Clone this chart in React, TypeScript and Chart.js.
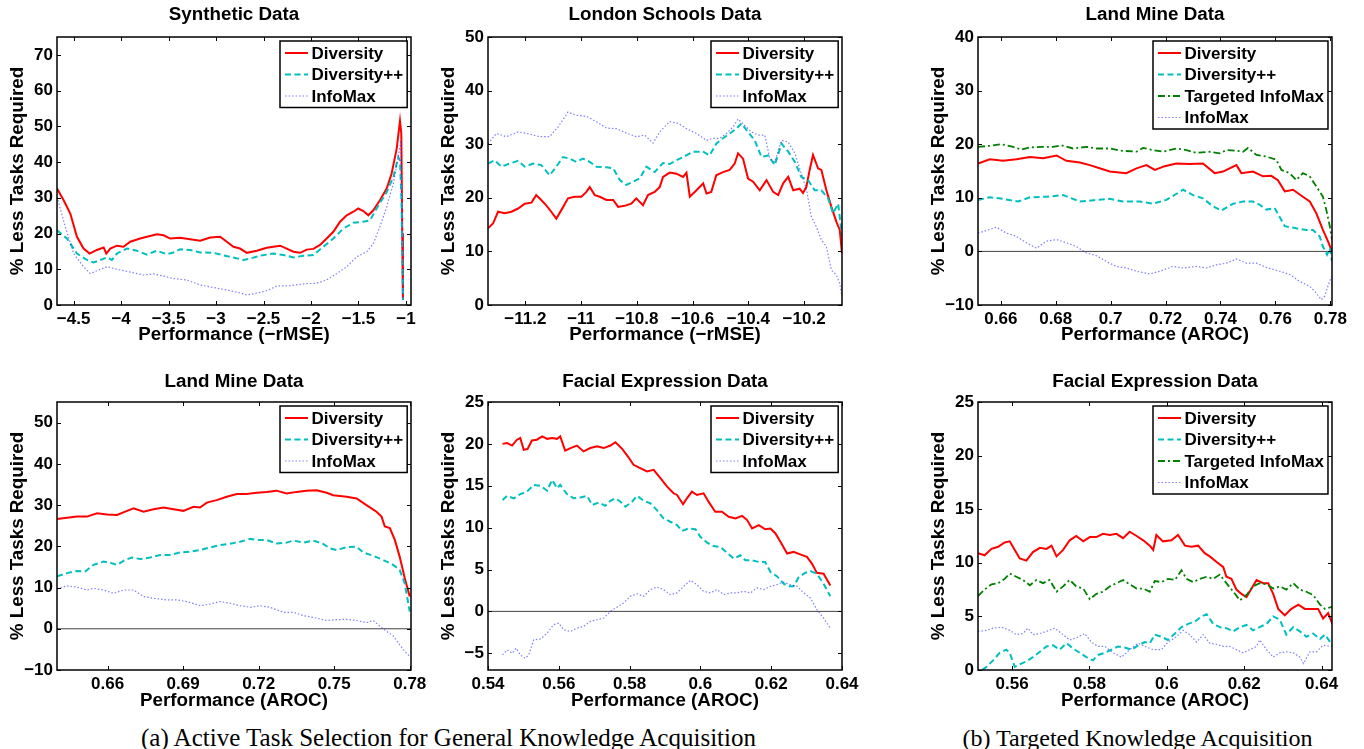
import React, { useEffect, useRef } from 'react';
import { Chart, registerables } from 'chart.js';

Chart.register(...registerables);

const FONT = '"Liberation Sans", Arial, Helvetica, sans-serif';
const SERIF = '"Liberation Serif", "Times New Roman", Times, serif';
const TICK_FONT = 17;
const LABEL_FONT = 18.8;
const LEGEND_FONT = 17;
const LH = 1.2;

// ---------- Synthetic Data ----------
const synthDivX = [-4.675,-4.605,-4.535,-4.465,-4.395,-4.332,-4.255,-4.184,-4.156,-4.114,-4.044,-3.974,-3.904,-3.799,-3.728,-3.623,-3.553,-3.483,-3.378,-3.273,-3.167,-3.062,-2.957,-2.887,-2.817,-2.747,-2.676,-2.571,-2.466,-2.396,-2.326,-2.256,-2.185,-2.115,-2.045,-1.975,-1.905,-1.835,-1.765,-1.694,-1.624,-1.554,-1.502,-1.449,-1.396,-1.344,-1.274,-1.203,-1.151,-1.098,-1.063,-1.049,-1.039,-1.032];
const synthDivY = [32.6,29.3,25.6,19.1,15.8,14.4,15.4,16.1,14.4,15.8,16.6,16.3,17.7,18.6,19.1,19.8,19.5,18.6,18.8,18.4,18.0,18.9,19.1,17.7,16.3,15.8,14.6,15.2,16.0,16.3,16.6,15.8,14.9,14.6,15.5,15.7,16.8,18.6,20.5,23.3,25.1,26.1,27.0,26.3,25.1,26.5,29.3,32.6,36.8,43.7,51.5,48,20,1.5];
const synthDppX = [-4.675,-4.570,-4.465,-4.360,-4.290,-4.219,-4.149,-4.097,-4.044,-3.939,-3.834,-3.728,-3.623,-3.518,-3.448,-3.378,-3.273,-3.167,-3.027,-2.922,-2.817,-2.711,-2.641,-2.536,-2.396,-2.291,-2.185,-2.080,-1.975,-1.870,-1.765,-1.659,-1.554,-1.449,-1.379,-1.309,-1.203,-1.133,-1.081,-1.063,-1.047,-1.032];
const synthDppY = [20.9,18.6,14.4,12.6,11.9,12.6,13.3,12.6,14.4,15.8,15.2,14.1,15.2,14.2,14.7,15.6,15.4,14.7,14.6,13.9,13.3,12.6,13.0,13.8,14.4,14.0,13.3,13.8,14.0,16.3,18.6,21.4,23.0,23.3,23.7,27.0,31.6,35.8,41.4,40.5,29.3,1.4];
const synthImX = [-4.675,-4.588,-4.500,-4.395,-4.325,-4.219,-4.149,-4.044,-3.974,-3.869,-3.764,-3.658,-3.553,-3.448,-3.308,-3.167,-3.027,-2.887,-2.747,-2.676,-2.571,-2.466,-2.361,-2.220,-2.080,-1.940,-1.835,-1.729,-1.624,-1.519,-1.414,-1.344,-1.274,-1.203,-1.133,-1.081,-1.053,-1.032];
const synthImY = [30.3,21.9,14.4,10.7,8.8,10.0,10.7,10.0,9.6,9.0,8.4,8.7,8.1,7.4,7.0,5.6,4.9,4.2,3.4,2.8,3.3,4.0,5.3,5.4,5.9,6.1,7.0,8.8,10.7,13.5,14.9,17.2,21.9,27.5,34.0,41.4,46,1.4];

// ---------- London Schools Data ----------
const londonDivX = [-11.334,-11.316,-11.298,-11.274,-11.250,-11.226,-11.202,-11.178,-11.161,-11.143,-11.125,-11.107,-11.089,-11.071,-11.047,-11.023,-10.999,-10.981,-10.969,-10.951,-10.933,-10.909,-10.885,-10.867,-10.844,-10.820,-10.802,-10.778,-10.760,-10.736,-10.718,-10.706,-10.682,-10.658,-10.634,-10.622,-10.610,-10.586,-10.562,-10.550,-10.533,-10.515,-10.491,-10.467,-10.449,-10.437,-10.419,-10.401,-10.383,-10.359,-10.335,-10.311,-10.293,-10.275,-10.257,-10.239,-10.216,-10.204,-10.192,-10.180,-10.168,-10.150,-10.138,-10.120,-10.102,-10.084,-10.072,-10.064];
const londonDivY = [14.3,15.2,17.4,17.1,17.4,18.0,18.9,19.1,20.5,19.6,18.6,17.4,16.1,17.7,19.9,20.2,20.2,21.1,22.0,20.5,20.2,19.6,19.6,18.3,18.5,18.9,19.9,18.6,20.5,21.1,22.0,23.9,24.7,24.5,23.9,24.7,20.2,21.4,22.7,20.8,21.1,24.2,24.8,25.2,26.4,28.3,27.3,23.6,23.0,21.4,23.3,21.1,20.5,22.7,23.9,21.4,21.7,20.9,22.0,25.2,28.0,25.5,25.2,21.4,18.3,15.5,14.0,9.6];
const londonDppX = [-11.334,-11.310,-11.286,-11.256,-11.226,-11.202,-11.172,-11.143,-11.113,-11.089,-11.065,-11.041,-11.017,-10.993,-10.969,-10.945,-10.909,-10.885,-10.861,-10.838,-10.814,-10.790,-10.766,-10.736,-10.706,-10.682,-10.658,-10.634,-10.598,-10.562,-10.539,-10.515,-10.491,-10.467,-10.443,-10.425,-10.401,-10.377,-10.353,-10.329,-10.305,-10.281,-10.257,-10.233,-10.210,-10.186,-10.162,-10.138,-10.114,-10.096,-10.078,-10.064];
const londonDppY = [26.4,27.0,25.8,26.4,26.9,25.8,26.4,26.1,24.2,25.8,27.6,27.3,26.7,27.3,26.7,25.8,25.7,25.5,23.3,22.4,23.0,23.6,25.8,24.8,26.5,26.3,27.0,27.6,28.6,28.6,27.9,30.1,31.1,32.0,32.9,33.9,32.3,30.7,27.6,27.9,26.1,30.1,28.6,26.7,23.9,23.3,21.4,21.4,19.9,17.1,18.9,13.0];
const londonImX = [-11.334,-11.304,-11.268,-11.226,-11.184,-11.149,-11.113,-11.083,-11.047,-11.017,-10.981,-10.945,-10.909,-10.873,-10.838,-10.802,-10.772,-10.742,-10.718,-10.682,-10.652,-10.622,-10.586,-10.550,-10.527,-10.503,-10.479,-10.455,-10.437,-10.413,-10.389,-10.365,-10.341,-10.323,-10.305,-10.281,-10.257,-10.233,-10.210,-10.192,-10.174,-10.156,-10.138,-10.120,-10.102,-10.084,-10.072,-10.064];
const londonImY = [30.1,32.0,31.4,32.3,31.9,31.4,31.4,33.2,36.0,35.4,35.2,34.2,33.0,32.9,32.1,31.4,31.7,30.2,32.3,34.2,33.9,32.9,32.0,30.7,31.1,31.1,32.0,33.2,34.7,33.5,32.3,31.7,31.7,27.3,26.7,30.7,30.4,28.3,24.5,21.7,16.5,14.6,12.1,10.9,6.5,5.6,4.0,1.6];

// ---------- Land Mine Data (targeted) ----------
const lmbDivX = [0.6517,0.6560,0.6608,0.6657,0.6706,0.6754,0.6803,0.6839,0.6888,0.6924,0.6960,0.6997,0.7057,0.7094,0.7130,0.7161,0.7197,0.7239,0.7288,0.7336,0.7379,0.7409,0.7458,0.7476,0.7518,0.7555,0.7585,0.7609,0.7634,0.7664,0.7700,0.7725,0.7749,0.7773,0.7791,0.7806];
const lmbDivY = [16.4,17.2,16.9,17.2,17.6,17.4,17.9,16.9,16.6,16.1,15.5,14.9,14.6,15.5,16.1,15.2,15.9,16.4,16.3,16.4,14.6,14.9,16.1,14.6,14.9,14.0,14.1,13.3,11.2,11.5,10.2,9.3,7.1,4.0,1.9,0];
const lmbDppX = [0.6517,0.6560,0.6608,0.6663,0.6706,0.6766,0.6827,0.6888,0.6948,0.6997,0.7045,0.7106,0.7154,0.7203,0.7264,0.7300,0.7336,0.7373,0.7403,0.7446,0.7482,0.7518,0.7543,0.7567,0.7597,0.7634,0.7676,0.7713,0.7737,0.7761,0.7773,0.7788,0.7798,0.7806];
const lmbDppY = [9.6,10.1,9.8,9.3,10.1,10.2,10.5,9.3,9.6,9.8,9.3,9.3,8.9,9.6,11.5,10.5,9.9,8.4,7.6,8.9,9.3,9.3,8.7,7.8,8.1,4.7,4.3,4.0,4.0,2.8,0.9,-0.6,0.6,-1.9];
const lmbTimX = [0.6517,0.6560,0.6602,0.6645,0.6675,0.6706,0.6748,0.6790,0.6821,0.6863,0.6912,0.6948,0.6997,0.7033,0.7094,0.7118,0.7154,0.7191,0.7239,0.7276,0.7312,0.7361,0.7397,0.7421,0.7458,0.7482,0.7500,0.7531,0.7567,0.7603,0.7622,0.7652,0.7676,0.7700,0.7725,0.7749,0.7773,0.7785,0.7798,0.7806];
const lmbTimY = [19.5,19.7,20.0,19.5,19.0,19.4,19.5,19.5,19.8,19.2,19.5,19.2,19.2,18.8,18.6,19.3,18.9,18.6,19.2,18.9,18.4,18.6,18.3,18.9,18.8,18.6,19.3,18.0,17.7,17.1,15.2,14.6,13.3,14.6,14.0,12.1,10.2,7.8,4.7,2.2];
const lmbImX = [0.6517,0.6554,0.6584,0.6621,0.6657,0.6693,0.6730,0.6766,0.6803,0.6839,0.6875,0.6912,0.6948,0.6985,0.7021,0.7057,0.7094,0.7142,0.7179,0.7227,0.7264,0.7312,0.7349,0.7385,0.7421,0.7458,0.7494,0.7531,0.7567,0.7616,0.7652,0.7688,0.7725,0.7749,0.7767,0.7779,0.7791,0.7804];
const lmbImY = [3.4,4.0,4.5,3.4,2.8,1.6,0.6,1.9,2.2,1.6,0.9,-0.3,-0.8,-1.9,-2.8,-3.1,-3.7,-4.2,-3.7,-2.8,-3.1,-2.8,-3.1,-2.5,-2.2,-1.4,-2.2,-2.2,-3.0,-3.7,-4.3,-5.6,-6.5,-7.8,-9.0,-8.4,-6.5,-4.7];

// ---------- Land Mine Data (general) ----------
const lmaDivX = [0.6399,0.6439,0.6478,0.6518,0.6558,0.6597,0.6637,0.6670,0.6703,0.6743,0.6782,0.6822,0.6862,0.6901,0.6941,0.6967,0.6994,0.7033,0.7073,0.7113,0.7152,0.7192,0.7232,0.7271,0.7311,0.7351,0.7390,0.7430,0.7470,0.7496,0.7549,0.7589,0.7628,0.7668,0.7688,0.7701,0.7721,0.7741,0.7760,0.7780,0.7800];
const lmaDivY = [26.6,26.9,27.2,27.2,28.0,27.7,27.6,28.4,29.2,28.4,29.0,29.4,29.0,28.6,29.6,29.4,30.6,31.2,32.0,32.7,32.7,33.0,33.2,33.5,32.8,33.2,33.5,33.6,33.0,32.4,32.0,31.6,30.0,28.4,27.2,24.8,24.4,21.5,17.5,12.3,7.8];
const lmaDppX = [0.6399,0.6439,0.6478,0.6511,0.6544,0.6584,0.6611,0.6637,0.6670,0.6696,0.6730,0.6769,0.6809,0.6848,0.6888,0.6928,0.6967,0.7007,0.7047,0.7086,0.7126,0.7166,0.7205,0.7232,0.7271,0.7311,0.7337,0.7377,0.7417,0.7456,0.7483,0.7509,0.7549,0.7589,0.7615,0.7655,0.7694,0.7734,0.7760,0.7780,0.7800];
const lmaDppY = [12.7,13.5,14.0,13.9,15.5,16.3,16.0,15.5,16.7,17.3,16.9,17.3,17.9,17.9,18.5,18.7,19.1,19.7,20.3,20.6,21.1,21.8,21.5,21.5,20.7,20.9,21.4,20.9,21.4,20.6,19.5,19.1,19.8,19.9,18.5,17.7,16.7,15.5,14.3,11.0,4.2];
const lmaImX = [0.6399,0.6439,0.6478,0.6518,0.6544,0.6584,0.6624,0.6663,0.6703,0.6743,0.6782,0.6835,0.6875,0.6915,0.6967,0.7007,0.7047,0.7086,0.7126,0.7166,0.7205,0.7245,0.7298,0.7337,0.7377,0.7430,0.7470,0.7509,0.7549,0.7589,0.7628,0.7655,0.7681,0.7708,0.7734,0.7760,0.7780,0.7800];
const lmaImY = [9.7,10.4,10.1,9.4,9.8,9.4,8.6,9.4,9.4,7.8,7.4,7.0,7.0,6.6,5.6,6.0,6.6,6.2,5.6,5.2,5.6,5.2,4.0,4.0,3.2,2.6,2.0,2.2,2.3,2.0,1.5,2.0,0.6,-0.6,-1.7,-3.9,-5.5,-6.7];

// ---------- Facial Expression Data (general) ----------
const faDivX = [0.5441,0.5454,0.5468,0.5482,0.5491,0.5501,0.5512,0.5524,0.5538,0.5553,0.5567,0.5581,0.5595,0.5604,0.5618,0.5633,0.5651,0.5670,0.5689,0.5708,0.5727,0.5746,0.5760,0.5779,0.5797,0.5811,0.5830,0.5849,0.5868,0.5887,0.5906,0.5924,0.5934,0.5951,0.5962,0.5976,0.5990,0.6009,0.6023,0.6042,0.6061,0.6080,0.6099,0.6118,0.6132,0.6146,0.6165,0.6183,0.6198,0.6212,0.6226,0.6245,0.6263,0.6282,0.6301,0.6315,0.6329,0.6348,0.6367];
const faDivY = [20.0,20.1,19.8,20.5,20.7,19.3,19.4,20.4,20.5,20.9,20.6,20.7,20.6,20.9,19.2,19.5,19.8,19.1,19.5,19.7,19.5,19.8,20.2,19.4,18.4,17.5,17.1,16.7,16.9,15.9,14.9,14.1,13.9,12.8,13.5,14.3,13.9,14.1,13.1,11.9,11.9,11.3,11.1,11.4,10.9,9.9,10.3,9.8,9.9,9.3,8.3,6.9,7.1,6.8,6.5,5.7,4.6,4.5,3.1];
const faDppX = [0.5441,0.5454,0.5473,0.5491,0.5510,0.5529,0.5548,0.5567,0.5581,0.5595,0.5604,0.5623,0.5642,0.5661,0.5680,0.5694,0.5713,0.5731,0.5746,0.5760,0.5774,0.5788,0.5807,0.5821,0.5840,0.5859,0.5877,0.5896,0.5915,0.5934,0.5948,0.5967,0.5986,0.6000,0.6019,0.6037,0.6056,0.6075,0.6094,0.6113,0.6127,0.6146,0.6165,0.6183,0.6198,0.6216,0.6235,0.6249,0.6263,0.6278,0.6296,0.6311,0.6329,0.6348,0.6367];
const faDppY = [13.3,13.8,13.5,14.0,14.3,15.1,15.0,14.4,15.7,14.7,15.1,14.0,13.5,13.6,13.8,12.7,13.0,12.6,13.2,13.5,13.1,12.5,13.1,13.8,13.2,12.9,12.1,11.1,10.7,10.3,9.6,9.9,9.8,8.9,8.2,7.8,7.7,7.0,6.3,6.7,6.1,6.1,5.9,5.9,4.7,4.2,3.3,3.0,3.0,4.1,4.6,4.8,4.5,3.3,1.8];
const faImX = [0.5441,0.5454,0.5468,0.5480,0.5491,0.5505,0.5515,0.5529,0.5548,0.5567,0.5585,0.5600,0.5614,0.5633,0.5651,0.5670,0.5689,0.5708,0.5727,0.5746,0.5764,0.5783,0.5802,0.5821,0.5840,0.5859,0.5877,0.5896,0.5915,0.5934,0.5953,0.5972,0.5990,0.6009,0.6028,0.6047,0.6066,0.6085,0.6103,0.6122,0.6141,0.6160,0.6179,0.6198,0.6216,0.6235,0.6254,0.6273,0.6292,0.6311,0.6329,0.6348,0.6367];
const faImY = [-5.2,-4.6,-5.0,-4.4,-5.2,-5.6,-5.2,-3.4,-3.3,-2.6,-1.6,-1.4,-2.2,-2.4,-2.0,-1.8,-1.2,-1.0,-0.8,0.0,0.5,1.0,1.8,2.1,1.8,2.6,2.9,2.6,2.0,2.2,3.0,3.7,3.2,2.4,2.2,2.6,2.0,2.2,2.2,2.4,2.2,2.8,2.6,3.0,3.2,3.5,3.2,3.0,2.2,1.6,0.2,-0.8,-2.0];

// ---------- Facial Expression Data (targeted) ----------
const fbDivX = [0.5512,0.5529,0.5547,0.5564,0.5581,0.5594,0.5607,0.5620,0.5637,0.5654,0.5672,0.5689,0.5702,0.5715,0.5732,0.5749,0.5766,0.5784,0.5801,0.5818,0.5835,0.5853,0.5870,0.5887,0.5904,0.5922,0.5939,0.5956,0.5965,0.5973,0.5990,0.6012,0.6029,0.6047,0.6064,0.6081,0.6098,0.6111,0.6128,0.6146,0.6154,0.6167,0.6180,0.6193,0.6206,0.6219,0.6232,0.6249,0.6262,0.6275,0.6288,0.6305,0.6322,0.6340,0.6357,0.6374,0.6391,0.6404,0.6417,0.6428];
const fbDivY = [10.9,10.7,11.3,11.5,11.9,12.0,11.2,10.4,10.2,11.0,11.4,11.3,11.6,10.6,11.2,12.1,12.5,12.0,12.4,12.4,12.7,12.6,12.7,12.3,12.9,12.5,12.1,11.6,11.2,12.6,12.0,12.1,12.6,11.6,11.5,11.6,10.9,10.6,10.1,9.6,8.7,8.5,7.5,7.1,6.8,7.6,8.4,8.1,8.1,7.1,5.7,5.1,5.7,6.1,5.7,5.7,5.7,4.8,5.3,4.3];
const fbDppX = [0.5523,0.5534,0.5551,0.5568,0.5585,0.5594,0.5607,0.5624,0.5637,0.5654,0.5672,0.5689,0.5706,0.5723,0.5741,0.5758,0.5775,0.5792,0.5809,0.5822,0.5840,0.5857,0.5874,0.5891,0.5909,0.5926,0.5943,0.5956,0.5969,0.5986,0.6003,0.6021,0.6038,0.6055,0.6072,0.6090,0.6103,0.6120,0.6137,0.6154,0.6172,0.6189,0.6206,0.6223,0.6240,0.6258,0.6275,0.6292,0.6309,0.6327,0.6344,0.6361,0.6378,0.6396,0.6409,0.6428];
const fbDppY = [0,0.3,0.9,1.6,1.9,1.6,0.3,0.6,0.8,1.2,1.7,2.2,2.3,1.9,2.5,2.0,1.6,1.2,0.9,1.4,1.6,1.9,2.2,2.1,1.9,2.3,2.6,2.5,3.3,3.1,2.8,3.4,4.0,4.3,4.5,5.0,5.2,4.3,4.0,3.9,3.6,4.0,4.2,3.7,4.0,4.3,5.0,4.7,3.3,4.0,3.6,3.1,3.4,2.9,3.3,2.3];
const fbTimX = [0.5512,0.5529,0.5547,0.5564,0.5581,0.5594,0.5611,0.5628,0.5646,0.5663,0.5680,0.5697,0.5715,0.5732,0.5749,0.5766,0.5784,0.5801,0.5818,0.5835,0.5853,0.5870,0.5887,0.5904,0.5922,0.5939,0.5956,0.5969,0.5986,0.6003,0.6021,0.6038,0.6051,0.6068,0.6085,0.6103,0.6120,0.6137,0.6154,0.6172,0.6189,0.6206,0.6223,0.6240,0.6258,0.6275,0.6292,0.6309,0.6327,0.6344,0.6361,0.6378,0.6396,0.6409,0.6428];
const fbTimY = [6.9,7.5,8.0,8.1,8.5,9.0,8.7,8.4,7.9,8.4,8.1,8.4,7.3,7.8,8.4,7.8,7.6,6.6,7.1,7.3,7.8,8.1,8.4,8.0,7.6,7.6,7.3,8.3,8.2,8.5,8.4,9.3,8.5,8.2,8.5,8.7,8.5,8.9,8.1,7.3,6.5,7.0,7.8,8.1,8.0,7.6,7.8,7.5,8.1,7.5,7.3,7.0,6.1,5.7,5.9];
const fbImX = [0.5512,0.5534,0.5551,0.5572,0.5594,0.5611,0.5628,0.5641,0.5654,0.5672,0.5689,0.5710,0.5732,0.5749,0.5766,0.5788,0.5805,0.5822,0.5840,0.5861,0.5883,0.5904,0.5926,0.5943,0.5965,0.5986,0.6003,0.6025,0.6042,0.6059,0.6077,0.6094,0.6111,0.6128,0.6146,0.6163,0.6180,0.6197,0.6215,0.6232,0.6240,0.6258,0.6275,0.6292,0.6309,0.6327,0.6344,0.6353,0.6370,0.6387,0.6404,0.6428];
const fbImY = [3.6,3.7,3.9,4.0,3.7,3.3,3.4,3.9,3.3,3.4,3.6,3.9,3.3,2.8,3.0,3.4,2.6,2.2,2.2,1.6,1.2,1.9,2.5,2.2,1.9,1.9,2.6,3.1,3.7,3.3,2.6,3.3,2.5,2.4,2.2,2.2,1.9,1.6,1.9,2.2,2.8,1.9,1.2,1.6,1.7,1.6,1.2,0.6,1.7,1.7,2.3,2.2];

const captionA = '(a) Active Task Selection for General Knowledge Acquisition';
const captionB = '(b) Targeted Knowledge Acquisition';
const yAxisLabel = '% Less Tasks Required';

type Kind = 'div' | 'dpp' | 'tim' | 'im';

const STYLE: Record<Kind, { label: string; color: string; width: number; dash: number[] }> = {
  div: { label: 'Diversity', color: '#ff0000', width: 2, dash: [] },
  dpp: { label: 'Diversity++', color: '#00bfbf', width: 2, dash: [6, 3.5] },
  tim: { label: 'Targeted InfoMax', color: '#008000', width: 1.8, dash: [7, 3, 2, 3] },
  im: { label: 'InfoMax', color: 'rgba(40,40,255,0.6)', width: 1.2, dash: [1.5, 2] },
};

interface SeriesSpec { kind: Kind; x: number[]; y: number[] }
interface Panel {
  title: string;
  xTitle: string;
  xMin: number; xMax: number; xStep: number;
  yMin: number; yMax: number; yStep: number;
  zero: boolean;
  series: SeriesSpec[];
  box: { left: number; top: number; width: number; height: number };
  plot: { left: number; top: number; right: number; bottom: number };
  titleCY: number; xTickCY: number; xTitleCY: number; yTitleX: number;
}

const ROW = [
  { top: 0, height: 355, pt: 37, pb: 305, titleCY: 15, xTickCY: 319.3, xTitleCY: 335.3 },
  { top: 362, height: 355, pt: 402, pb: 670, titleCY: 381.7, xTickCY: 684.2, xTitleCY: 700.7 },
];
const COL = [
  { left: 0, width: 440, pl: 57, pr: 411, yTitleX: 17.5 },
  { left: 425, width: 465, pl: 488, pr: 842, yTitleX: 449 },
  { left: 890, width: 474, pl: 978, pr: 1332, yTitleX: 939 },
];

function place(r: number, c: number) {
  const R = ROW[r], C = COL[c];
  return {
    box: { left: C.left, top: R.top, width: C.width, height: R.height },
    plot: { left: C.pl, top: R.pt, right: C.pr, bottom: R.pb },
    titleCY: R.titleCY, xTickCY: R.xTickCY, xTitleCY: R.xTitleCY, yTitleX: C.yTitleX,
  };
}

const PANELS: Panel[] = [
  {
    title: 'Synthetic Data', xTitle: 'Performance (\u2212rMSE)',
    xMin: -4.675, xMax: -0.947, xStep: 0.5, yMin: 0, yMax: 75, yStep: 10, zero: false,
    series: [
      { kind: 'div', x: synthDivX, y: synthDivY },
      { kind: 'dpp', x: synthDppX, y: synthDppY },
      { kind: 'im', x: synthImX, y: synthImY },
    ],
    ...place(0, 0),
  },
  {
    title: 'London Schools Data', xTitle: 'Performance (\u2212rMSE)',
    xMin: -11.334, xMax: -10.064, xStep: 0.2, yMin: 0, yMax: 50, yStep: 10, zero: false,
    series: [
      { kind: 'div', x: londonDivX, y: londonDivY },
      { kind: 'dpp', x: londonDppX, y: londonDppY },
      { kind: 'im', x: londonImX, y: londonImY },
    ],
    ...place(0, 1),
  },
  {
    title: 'Land Mine Data', xTitle: 'Performance (AROC)',
    xMin: 0.6517, xMax: 0.7806, xStep: 0.02, yMin: -10, yMax: 40, yStep: 10, zero: true,
    series: [
      { kind: 'div', x: lmbDivX, y: lmbDivY },
      { kind: 'dpp', x: lmbDppX, y: lmbDppY },
      { kind: 'tim', x: lmbTimX, y: lmbTimY },
      { kind: 'im', x: lmbImX, y: lmbImY },
    ],
    ...place(0, 2),
  },
  {
    title: 'Land Mine Data', xTitle: 'Performance (AROC)',
    xMin: 0.6399, xMax: 0.7805, xStep: 0.03, yMin: -10, yMax: 55, yStep: 10, zero: true,
    series: [
      { kind: 'div', x: lmaDivX, y: lmaDivY },
      { kind: 'dpp', x: lmaDppX, y: lmaDppY },
      { kind: 'im', x: lmaImX, y: lmaImY },
    ],
    ...place(1, 0),
  },
  {
    title: 'Facial Expression Data', xTitle: 'Performance (AROC)',
    xMin: 0.54, xMax: 0.64, xStep: 0.02, yMin: -7, yMax: 25, yStep: 5, zero: true,
    series: [
      { kind: 'div', x: faDivX, y: faDivY },
      { kind: 'dpp', x: faDppX, y: faDppY },
      { kind: 'im', x: faImX, y: faImY },
    ],
    ...place(1, 1),
  },
  {
    title: 'Facial Expression Data', xTitle: 'Performance (AROC)',
    xMin: 0.5512, xMax: 0.6427, xStep: 0.02, yMin: 0, yMax: 25, yStep: 5, zero: false,
    series: [
      { kind: 'div', x: fbDivX, y: fbDivY },
      { kind: 'dpp', x: fbDppX, y: fbDppY },
      { kind: 'tim', x: fbTimX, y: fbTimY },
      { kind: 'im', x: fbImX, y: fbImY },
    ],
    ...place(1, 2),
  },
];

const fmt = (v: number) => {
  const r = Math.round(v * 1e6) / 1e6;
  return String(r).replace('-', '\u2212');
};

function framePlugin(kinds: Kind[]) {
  return {
    id: 'matlabFrame',
    afterDatasetsDraw(chart: any) {
      const { ctx, chartArea: a } = chart;
      const xs = chart.scales.x;
      const ys = chart.scales.y;
      const L = Math.round(a.left), R = Math.round(a.right), T = Math.round(a.top), B = Math.round(a.bottom);
      const TL = 4;
      ctx.save();
      ctx.setLineDash([]);
      ctx.strokeStyle = '#000';
      ctx.lineWidth = 1;
      ctx.beginPath();
      xs.ticks.forEach((t: any) => {
        const px = Math.round(xs.getPixelForValue(t.value)) + 0.5;
        ctx.moveTo(px, B); ctx.lineTo(px, B - TL);
        ctx.moveTo(px, T); ctx.lineTo(px, T + TL);
      });
      ys.ticks.forEach((t: any) => {
        const py = Math.round(ys.getPixelForValue(t.value)) + 0.5;
        ctx.moveTo(L, py); ctx.lineTo(L + TL, py);
        ctx.moveTo(R, py); ctx.lineTo(R - TL, py);
      });
      ctx.stroke();
      ctx.lineWidth = 1.5;
      ctx.strokeRect(L, T, R - L, B - T);

      // legend
      ctx.font = `bold ${LEGEND_FONT}px ${FONT}`;
      let maxW = 0;
      kinds.forEach((k) => { maxW = Math.max(maxW, ctx.measureText(STYLE[k].label).width); });
      const w = 5 + 23 + 3.5 + maxW + 4;
      const h = 12 + (kinds.length - 1) * 21.5 + 11.5;
      const bx = Math.round(R - 4 - w);
      const by = T + 4;
      ctx.fillStyle = '#fff';
      ctx.fillRect(bx, by, w, h);
      ctx.lineWidth = 1.5;
      ctx.strokeStyle = '#000';
      ctx.strokeRect(bx, by, w, h);
      kinds.forEach((k, i) => {
        const s = STYLE[k];
        const cy = by + 12 + i * 21.5;
        ctx.strokeStyle = s.color;
        ctx.lineWidth = s.width;
        ctx.setLineDash(s.dash);
        ctx.beginPath();
        ctx.moveTo(bx + 5, cy);
        ctx.lineTo(bx + 28, cy);
        ctx.stroke();
        ctx.setLineDash([]);
        ctx.fillStyle = '#000';
        ctx.textAlign = 'left';
        ctx.textBaseline = 'middle';
        ctx.fillText(s.label, bx + 31.5, cy + 1);
      });
      ctx.restore();
    },
  };
}

function buildConfig(p: Panel): any {
  const lh = LABEL_FONT * LH;
  const tlh = TICK_FONT * LH;
  const plotTopL = p.plot.top - p.box.top;
  const plotBottomL = p.plot.bottom - p.box.top;
  const titleCYL = p.titleCY - p.box.top;
  const tPadTop = titleCYL - lh / 2;
  const tPadBottom = plotTopL - tPadTop - lh;
  const yAxisW = p.plot.left - p.box.left;
  const xAxisH = p.box.height - plotBottomL;
  const rightPad = p.box.left + p.box.width - p.plot.right;
  const yTitlePad = p.yTitleX - p.box.left - lh / 2;
  const xTickPad = p.xTickCY - p.box.top - plotBottomL - tlh / 2;
  const xTitlePad = p.box.height - (p.xTitleCY - p.box.top) - lh / 2;

  const datasets: any[] = p.series.map((s, i) => {
    const st = STYLE[s.kind];
    const n = Math.min(s.x.length, s.y.length);
    const data = [];
    for (let j = 0; j < n; j++) data.push({ x: s.x[j], y: s.y[j] });
    return {
      label: st.label,
      data,
      borderColor: st.color,
      backgroundColor: st.color,
      borderWidth: st.width,
      borderDash: st.dash,
      pointRadius: 0,
      fill: false,
      tension: 0,
      order: -i,
    };
  });
  if (p.zero) {
    datasets.push({
      label: 'zero',
      data: [{ x: p.xMin, y: 0 }, { x: p.xMax, y: 0 }],
      borderColor: '#444',
      borderWidth: 1,
      pointRadius: 0,
      fill: false,
      order: 10,
    });
  }
  const tickFont = { family: FONT, size: TICK_FONT, weight: 'bold' as const, lineHeight: LH };
  const labelFont = { family: FONT, size: LABEL_FONT, weight: 'bold' as const, lineHeight: LH };

  return {
    type: 'line',
    data: { datasets },
    options: {
      responsive: false,
      maintainAspectRatio: false,
      animation: false,
      devicePixelRatio: 1,
      parsing: true,
      layout: { padding: { left: 0, right: rightPad, top: 0, bottom: 0 } },
      plugins: {
        legend: { display: false },
        tooltip: { enabled: false },
        title: {
          display: true,
          text: p.title,
          fullSize: false,
          color: '#000',
          font: labelFont,
          padding: { top: tPadTop, bottom: tPadBottom },
        },
      },
      scales: {
        x: {
          type: 'linear',
          min: p.xMin,
          max: p.xMax,
          afterFit: (s: any) => { s.height = xAxisH; },
          grid: { display: false, drawTicks: false },
          border: { display: false },
          ticks: {
            stepSize: p.xStep,
            includeBounds: false,
            autoSkip: false,
            maxRotation: 0,
            minRotation: 0,
            padding: xTickPad,
            color: '#000',
            font: tickFont,
            callback: (v: any) => fmt(Number(v)),
          },
          title: {
            display: true,
            text: p.xTitle,
            color: '#000',
            font: labelFont,
            padding: { top: 0, bottom: xTitlePad },
          },
        },
        y: {
          type: 'linear',
          min: p.yMin,
          max: p.yMax,
          afterFit: (s: any) => { s.width = yAxisW; },
          grid: { display: false, drawTicks: false },
          border: { display: false },
          ticks: {
            stepSize: p.yStep,
            includeBounds: false,
            autoSkip: false,
            padding: 4,
            color: '#000',
            font: tickFont,
            callback: (v: any) => fmt(Number(v)),
          },
          title: {
            display: true,
            text: yAxisLabel,
            color: '#000',
            font: labelFont,
            padding: { top: yTitlePad, bottom: 0 },
          },
        },
      },
    },
    plugins: [framePlugin(p.series.map((s) => s.kind))],
  };
}

function PanelChart({ p }: { p: Panel }) {
  const ref = useRef<HTMLCanvasElement | null>(null);
  useEffect(() => {
    const c = ref.current;
    if (!c) return;
    const chart = new Chart(c, buildConfig(p));
    return () => chart.destroy();
  }, [p]);
  return (
    <canvas
      ref={ref}
      width={p.box.width}
      height={p.box.height}
      style={{ position: 'absolute', left: p.box.left, top: p.box.top, width: p.box.width, height: p.box.height }}
    />
  );
}

export default function App() {
  const capStyle: React.CSSProperties = {
    position: 'absolute',
    top: 725,
    textAlign: 'center',
    fontFamily: SERIF,
    lineHeight: '26px',
    color: '#000',
    whiteSpace: 'nowrap',
  };
  return (
    <div style={{ position: 'absolute', left: 0, top: 0, width: 1364, height: 749, background: '#fff', overflow: 'hidden' }}>
      {PANELS.map((p, i) => (
        <PanelChart key={i} p={p} />
      ))}
      <div style={{ ...capStyle, left: 0, width: 897, fontSize: 25 }}>{captionA}</div>
      <div style={{ ...capStyle, left: 911, width: 453, fontSize: 24 }}>{captionB}</div>
    </div>
  );
}
